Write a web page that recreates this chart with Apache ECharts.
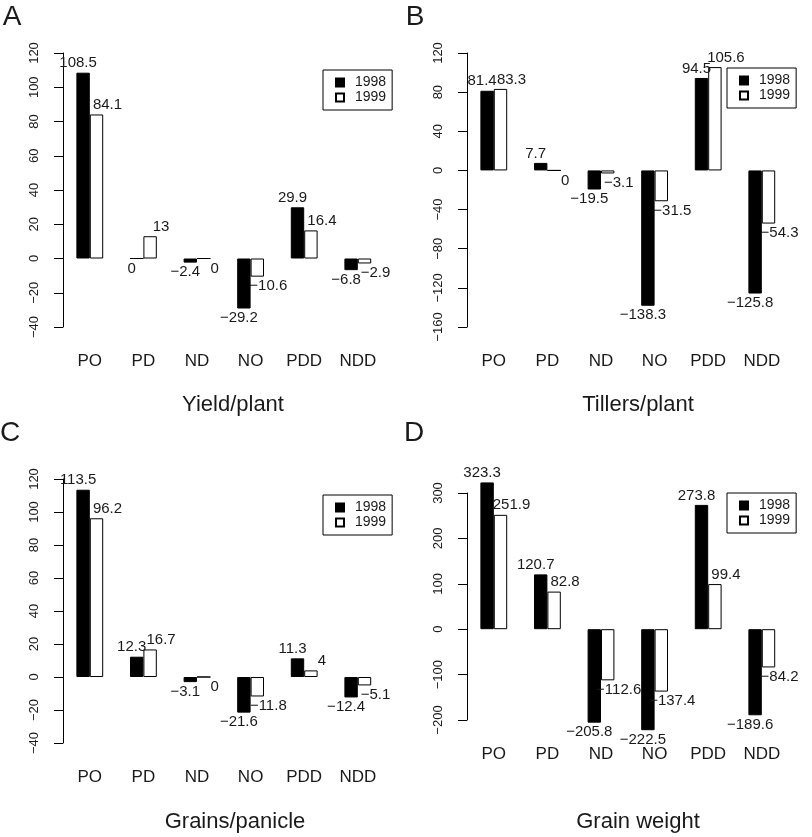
<!DOCTYPE html>
<html>
<head>
<meta charset="utf-8">
<script src="https://cdn.jsdelivr.net/npm/echarts@6/dist/echarts.min.js"></script>
<style>
  body { margin: 0; background: #fff; }
  #main { width: 812px; height: 837px; }
</style>
</head>
<body>
<div id="main"></div>
<script>
var cats = ['PO', 'PD', 'ND', 'NO', 'PDD', 'NDD'];

var yield1998 = [108.5, 0, -2.4, -29.2, 29.9, -6.8];
var yield1999 = [84.1, 13, 0, -10.6, 16.4, -2.9];
var tillers1998 = [81.4, 7.7, -19.5, -138.3, 94.5, -125.8];
var tillers1999 = [83.3, 0, -3.1, -31.5, 105.6, -54.3];
var grains1998 = [113.5, 12.3, -3.1, -21.6, 11.3, -12.4];
var grains1999 = [96.2, 16.7, 0, -11.8, 4, -5.1];
var weight1998 = [323.3, 120.7, -205.8, -222.5, 273.8, -189.6];
var weight1999 = [251.9, 82.8, -112.6, -137.4, 99.4, -84.2];

var panels = [
  { letter: 'A', name: 'Yield/plant', a: yield1998, b: yield1999, min: -40, max: 120, step: 20,
    left: 63, top: 53, height: 274, legend: [323, 70], title: [233, 405], tag: [12, 17] },
  { letter: 'B', name: 'Tillers/plant', a: tillers1998, b: tillers1999, min: -160, max: 120, step: 40,
    left: 467, top: 53, height: 274, legend: [727, 68], title: [638, 405], tag: [415, 17] },
  { letter: 'C', name: 'Grains/panicle', a: grains1998, b: grains1999, min: -40, max: 120, step: 20,
    left: 63, top: 479, height: 264, legend: [323, 495], title: [235, 822], tag: [10, 433] },
  { letter: 'D', name: 'Grain weight', a: weight1998, b: weight1999, min: -200, max: 300, step: 100,
    left: 467, top: 493, height: 227, legend: [727, 493], title: [638, 822], tag: [414, 433] }
];

var FONT = '"Liberation Sans", Arial, sans-serif';
var INK = '#1a1a1a';
var band = 53.6;

function minus(v) {
  return String(v).replace('-', '\u2212');
}

// values with label placed above or below the bar end
function barData(arr, dx) {
  return arr.map(function (v) {
    return {
      value: v,
      label: { position: v > 0 ? 'top' : 'bottom', offset: [dx, 0] }
    };
  });
}

var grid = [], xAxis = [], yAxis = [], series = [], legend = [], graphic = [];

panels.forEach(function (p, i) {
  grid.push({ left: p.left, top: p.top, width: band * 6, height: p.height, containLabel: false });
  xAxis.push({
    type: 'category',
    gridIndex: i,
    data: cats,
    position: 'bottom',
    axisLine: { show: false, onZero: false },
    axisTick: { show: false },
    axisLabel: { margin: 26, fontSize: 17, color: INK, fontFamily: FONT, interval: 0 }
  });
  yAxis.push({
    type: 'value',
    gridIndex: i,
    min: p.min,
    max: p.max,
    interval: p.step,
    splitLine: { show: false },
    axisLine: { show: true, lineStyle: { color: '#000', width: 1 } },
    axisTick: { show: true, length: 9, lineStyle: { color: '#000' } },
    axisLabel: { rotate: 90, margin: 22, fontSize: 13, color: INK, fontFamily: FONT, formatter: minus }
  });
  var labelStyle = {
    show: true, distance: 2, fontSize: 15, color: INK, fontFamily: FONT,
    formatter: function (d) { return minus(d.value); }
  };
  series.push({
    name: '1998', type: 'bar', xAxisIndex: i, yAxisIndex: i,
    barWidth: 13.4, barGap: '0%', clip: false,
    itemStyle: { color: '#000', borderColor: '#000', borderWidth: 1 },
    label: labelStyle,
    data: barData(p.a, -5)
  });
  series.push({
    name: '1999', type: 'bar', xAxisIndex: i, yAxisIndex: i,
    barWidth: 13.4, barGap: '0%', clip: false,
    itemStyle: { color: '#fff', borderColor: '#000', borderWidth: 1 },
    label: labelStyle,
    data: barData(p.b, 11)
  });
  legend.push({
    data: ['1998', '1999'],
    orient: 'vertical',
    left: p.legend[0],
    top: p.legend[1],
    width: 66,
    padding: [5, 6, 5, 12],
    borderColor: '#000',
    borderWidth: 1,
    itemWidth: 8,
    itemHeight: 8,
    itemGap: 0,
    icon: 'rect',
    selectedMode: false,
    textStyle: { fontSize: 14, color: INK, fontFamily: FONT, lineHeight: 15, padding: [0, 0, 0, 6] }
  });
  graphic.push({
    type: 'text', x: p.title[0], y: p.title[1],
    style: { text: p.name, fontSize: 22, fontFamily: FONT, fill: INK, textAlign: 'center', textVerticalAlign: 'middle' }
  });
  graphic.push({
    type: 'text', x: p.tag[0], y: p.tag[1],
    style: { text: p.letter, fontSize: 28, fontFamily: FONT, fill: INK, textAlign: 'center', textVerticalAlign: 'middle' }
  });
});

var chart = echarts.init(document.getElementById('main'));
var option = {
  backgroundColor: '#fff',
  animation: false,
  grid: grid,
  xAxis: xAxis,
  yAxis: yAxis,
  legend: legend,
  series: series,
  graphic: graphic
};
chart.setOption(option);
</script>
</body>
</html>
